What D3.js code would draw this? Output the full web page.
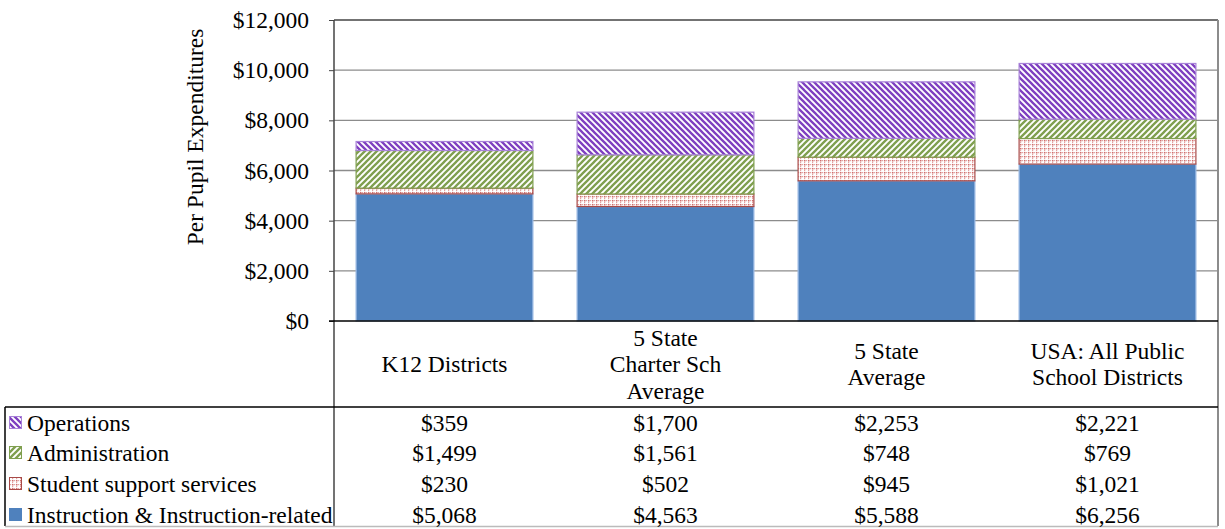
<!DOCTYPE html>
<html><head><meta charset="utf-8">
<script src="https://cdn.jsdelivr.net/npm/d3@7"></script>
<style>body{margin:0;background:#fff}svg text{font-family:"Liberation Serif","Times New Roman",serif;fill:#000}</style>
</head><body><svg id="c" width="1225" height="529"></svg>
<script>
const categories = [["K12 Districts"],["5 State","Charter Sch","Average"],["5 State","Average"],["USA: All Public","School Districts"]];
const seriesNames = ["Instruction & Instruction-related","Student support services","Administration","Operations"];
const instruction = [5068,4563,5588,6256];
const support = [230,502,945,1021];
const administration = [1499,1561,748,769];
const operations = [359,1700,2253,2221];
const yTicks = [0,2000,4000,6000,8000,10000,12000];

const values = [instruction, support, administration, operations];
const svg = d3.select("#c");
const L=334, R=1218, T=20, B=321;
const FS = 23.5;

const defs = svg.append("defs");
// Operations: wide downward diagonal
const pO = defs.append("pattern").attr("id","pOps").attr("patternUnits","userSpaceOnUse").attr("width",6).attr("height",6);
pO.append("rect").attr("width",6).attr("height",6).attr("fill","#fff");
pO.append("path").attr("d","M-1,-1 L7,7 M-1,5 L1,7 M5,-1 L7,1").attr("stroke","#7E3FC0").attr("stroke-width",2.3);
// Administration: wide upward diagonal
const pA = defs.append("pattern").attr("id","pAdm").attr("patternUnits","userSpaceOnUse").attr("width",6).attr("height",6);
pA.append("rect").attr("width",6).attr("height",6).attr("fill","#fff");
pA.append("path").attr("d","M-1,7 L7,-1 M-1,1 L1,-1 M5,7 L7,5").attr("stroke","#7F9F4F").attr("stroke-width",2.3);
// Student support: dotted grid
const pS = defs.append("pattern").attr("id","pSup").attr("patternUnits","userSpaceOnUse").attr("width",4).attr("height",4);
pS.append("rect").attr("width",4).attr("height",4).attr("fill","#fff");
pS.append("rect").attr("x",0).attr("y",0).attr("width",1.5).attr("height",1.5).attr("fill","#CF6E6C");
pS.append("rect").attr("x",2).attr("y",0).attr("width",1.2).attr("height",1.2).attr("fill","#E3A3A2");
pS.append("rect").attr("x",0).attr("y",2).attr("width",1.2).attr("height",1.2).attr("fill","#E3A3A2");

const fills = ["#4F81BD","url(#pSup)","url(#pAdm)","url(#pOps)"];
const strokes = ["#9AB9E4","#A84A48","#7F9F4F","#A882D8"];

const x = d3.scaleBand().domain(d3.range(categories.length)).range([L,R]).paddingInner(0.2).paddingOuter(0.1);
const y = d3.scaleLinear().domain([0,12000]).range([B,T]);

// gridlines
svg.append("g").selectAll("line").data(yTicks.filter(d=>d>0&&d<12000)).join("line")
  .attr("x1",L).attr("x2",R).attr("y1",d=>y(d)).attr("y2",d=>y(d))
  .attr("stroke","#8C8C8C").attr("stroke-width",1.3);

// stacked bars
const stackData = categories.map((c,i)=>{const o={i}; seriesNames.forEach((s,k)=>o[s]=values[k][i]); return o;});
const stack = d3.stack().keys(seriesNames)(stackData);
svg.append("g").selectAll("g").data(stack).join("g")
  .attr("fill",(d,k)=>fills[k]).attr("stroke",(d,k)=>strokes[k]).attr("stroke-width",1.2)
  .selectAll("rect").data(d=>d).join("rect")
  .attr("x",d=>x(d.data.i)).attr("width",x.bandwidth())
  .attr("y",d=>y(d[1])).attr("height",d=>y(d[0])-y(d[1]));

// frame
svg.append("line").attr("x1",L).attr("x2",R).attr("y1",T).attr("y2",T).attr("stroke","#444").attr("stroke-width",1.5);
svg.append("line").attr("x1",R).attr("x2",R).attr("y1",T).attr("y2",526).attr("stroke","#8C8C8C").attr("stroke-width",2);

// y axis
const yAxis = d3.axisLeft(y).tickValues(yTicks).tickSize(5).tickPadding(20).tickFormat(d=>"$"+d3.format(",")(d));
const ga = svg.append("g").attr("transform",`translate(${L},0)`).call(yAxis);
ga.select(".domain").remove();
ga.selectAll(".tick line").attr("stroke","#444");
ga.selectAll("text").style("font-size",FS+"px").style("font-family","Liberation Serif");
svg.append("line").attr("x1",L).attr("x2",L).attr("y1",T).attr("y2",526).attr("stroke","#444").attr("stroke-width",1.5);
svg.append("line").attr("x1",L-5).attr("x2",R).attr("y1",B).attr("y2",B).attr("stroke","#000").attr("stroke-width",1.5);

svg.append("text").attr("transform","translate(203,137) rotate(-90)").attr("text-anchor","middle")
  .style("font-size",FS+"px").text("Per Pupil Expenditures");

// category labels
const lh = 26.5;
svg.append("g").selectAll("text").data(categories).join("text")
  .attr("text-anchor","middle").style("font-size",FS+"px")
  .attr("x",(d,i)=>x(i)+x.bandwidth()/2)
  .attr("y",d=>364 - (d.length-1)*lh/2 + 8)
  .selectAll("tspan").data(d=>d).join("tspan")
  .attr("x",function(){return d3.select(this.parentNode).attr("x");})
  .attr("dy",(d,j)=>j===0?0:lh).text(d=>d);

// table
svg.append("line").attr("x1",5).attr("x2",R).attr("y1",407).attr("y2",407).attr("stroke","#000").attr("stroke-width",1.5);
svg.append("line").attr("x1",5).attr("x2",5).attr("y1",407).attr("y2",526).attr("stroke","#000").attr("stroke-width",1.5);
svg.append("line").attr("x1",5).attr("x2",R).attr("y1",526.5).attr("y2",526.5).attr("stroke","#BBB").attr("stroke-width",1.5);

const rowOrder = [3,2,1,0];
const rowY = [423,453,484,515];
const keyFills = ["#4F81BD","url(#pSup)","url(#pAdm)","url(#pOps)"];
const tbl = svg.append("g");
rowOrder.forEach((k,r)=>{
  tbl.append("rect").attr("x",9.5).attr("y",rowY[r]-6.5).attr("width",12).attr("height",12)
    .attr("fill",keyFills[k]).attr("stroke",k===0?"#4F81BD":strokes[k]).attr("stroke-width",1);
  tbl.append("text").attr("x",27).attr("y",rowY[r]+8).style("font-size",FS+"px").text(seriesNames[k]);
  tbl.selectAll(null).data(values[k]).join("text")
    .attr("x",(d,i)=>x(i)+x.bandwidth()/2).attr("y",rowY[r]+8).attr("text-anchor","middle")
    .style("font-size",FS+"px").text(d=>"$"+d3.format(",")(d));
});
</script></body></html>
